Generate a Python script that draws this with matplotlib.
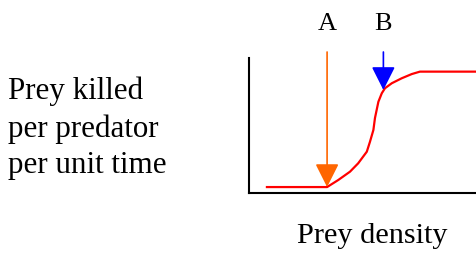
import matplotlib
matplotlib.use("Agg")
import matplotlib.pyplot as plt

# Data (arbitrary units: x 0-100 prey density, y 0-100 kill rate)
prey_density = [7.9, 34.4, 39.3, 44.5, 48.1, 51.9, 53.3, 54.8, 55.5, 57.0, 58.5, 59.9, 62.9, 67.3, 71.7, 75.3, 100.0]
prey_killed = [4.4, 4.4, 9.6, 15.8, 22.0, 30.6, 38.0, 46.7, 55.6, 67.6, 73.9, 77.6, 81.3, 85.0, 88.1, 89.9, 89.9]
arrow_labels = ["A", "B"]
arrow_x = [34.4, 59.2]
arrow_tip_y = [4.4, 76.3]
arrow_colors = ["#FF6600", "#0000FF"]
ylabel_lines = ["Prey killed", "per predator", "per unit time"]
xlabel = "Prey density"

W, H = 476, 256
fig = plt.figure(figsize=(W / 100, H / 100), dpi=100)
plt.rcParams["font.family"] = ["Liberation Serif", "DejaVu Serif"]

left_px, right_px, bottom_px, top_px = 249, 476, 193, 58
ax = fig.add_axes([left_px / W, 1 - bottom_px / H, (right_px - left_px) / W, (bottom_px - top_px) / H])
ax.set_xlim(0, 100)
ax.set_ylim(0, 100)
ax.set_xticks([])
ax.set_yticks([])
for s in ["top", "right"]:
    ax.spines[s].set_visible(False)
for s in ["left", "bottom"]:
    ax.spines[s].set_linewidth(1.5)
    ax.spines[s].set_color("black")
ax.patch.set_alpha(0)

ax.plot(prey_density, prey_killed, color="#FF0000", lw=1.6, solid_joinstyle="round", zorder=2)

arrow_top = (bottom_px - 52) / ((bottom_px - top_px) / 100.0)
for lab, x, tip, c in zip(arrow_labels, arrow_x, arrow_tip_y, arrow_colors):
    ann = ax.annotate("", xy=(x, tip), xytext=(x, arrow_top), xycoords="data",
                      arrowprops=dict(arrowstyle="-|>,head_length=14.5,head_width=7.3",
                                      mutation_scale=1, color=c, lw=1.2,
                                      shrinkA=0, shrinkB=0),
                      annotation_clip=False, zorder=3)
    ann.arrow_patch.set_clip_on(False)
    xpix = left_px + x / 100.0 * (right_px - left_px)
    fig.text(xpix / W, 1 - 30 / H, lab, ha="center", va="baseline", fontsize=19)

baselines = [99, 137, 173]
for line, b in zip(ylabel_lines, baselines):
    fig.text(8 / W, 1 - b / H, line, ha="left", va="baseline", fontsize=22.3)

fig.text(372 / W, 1 - 243 / H, xlabel, ha="center", va="baseline", fontsize=21.8)

fig.savefig("out.png", dpi=100)
